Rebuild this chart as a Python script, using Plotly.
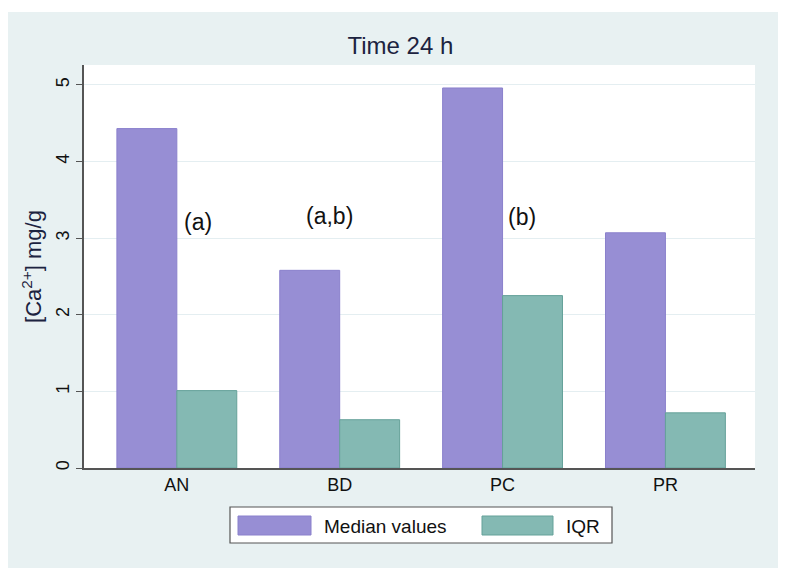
import plotly.graph_objects as go

categories = ["AN", "BD", "PC", "PR"]
median_values = [4.43, 2.58, 4.96, 3.07]
iqr_values = [1.01, 0.63, 2.25, 0.72]
sig_labels = ["(a)", "(a,b)", "(b)"]
sig_x = [0.13, 0.94, 2.12]
sig_y = [3.21, 3.29, 3.28]
y_ticks = [0, 1, 2, 3, 4, 5]

W, H = 786, 580
OFF = 8  # page body margin
L, R, T, B = 84 - OFF, 755 - OFF, 65 - OFF, 468 - OFF

def px(x):
    return (x - OFF - L) / (R - L)

def py(y):
    return (B - (y - OFF)) / (B - T)

MED = "#978ed4"
IQR = "#84b9b3"
TXT = "#1c2340"

fig = go.Figure()
fig.add_trace(go.Bar(x=categories, y=median_values, name="Median values",
                     marker=dict(color=MED, line=dict(color="#8a80cc", width=1)),
                     showlegend=False))
fig.add_trace(go.Bar(x=categories, y=iqr_values, name="IQR",
                     marker=dict(color=IQR, line=dict(color="#65a199", width=1)),
                     showlegend=False))

shapes = [
    dict(type="rect", xref="paper", yref="paper", x0=px(8), x1=px(778), y0=py(568), y1=py(12),
         fillcolor="#e8f1f2", line=dict(width=0), layer="below"),
    dict(type="rect", xref="paper", yref="paper", x0=0, x1=1, y0=0, y1=1,
         fillcolor="white", line=dict(width=0), layer="below"),
    # legend box
    dict(type="rect", xref="paper", yref="paper", x0=px(230), x1=px(612), y0=py(543), y1=py(507),
         fillcolor="white", line=dict(color="#555555", width=1.2)),
    dict(type="rect", xref="paper", yref="paper", x0=px(238), x1=px(311), y0=py(535), y1=py(516),
         fillcolor=MED, line=dict(color="#8a80cc", width=1)),
    dict(type="rect", xref="paper", yref="paper", x0=px(482), x1=px(553), y0=py(535), y1=py(516),
         fillcolor=IQR, line=dict(color="#65a199", width=1)),
]

annotations = [
    dict(text=t, x=xv, y=yv, xref="x", yref="y", showarrow=False,
         font=dict(size=23, color="#111111"))
    for t, xv, yv in zip(sig_labels, sig_x, sig_y)
]
annotations += [
    dict(text="Median values", x=px(322), y=py(526), xref="paper", yref="paper",
         xanchor="left", yanchor="middle", showarrow=False, font=dict(size=19, color="#111111")),
    dict(text="IQR", x=px(564), y=py(526), xref="paper", yref="paper",
         xanchor="left", yanchor="middle", showarrow=False, font=dict(size=19, color="#111111")),
]

fig.update_layout(
    width=W, height=H,
    margin=dict(l=L, r=W - R, t=T, b=H - B, pad=0),
    paper_bgcolor="white", plot_bgcolor="white",
    barmode="group", bargap=0.264, bargroupgap=0,
    font=dict(family="Liberation Sans, Arial, sans-serif", color=TXT),
    title=dict(text="Time 24 h", x=px(419), xanchor="center", y=1 - (46 - OFF) / H, yanchor="middle",
               font=dict(size=24, color=TXT)),
    shapes=shapes, annotations=annotations, showlegend=False,
    xaxis=dict(range=[-0.57, 3.55], showline=True, linecolor="#555555", linewidth=1.5,
               ticks="", showgrid=False, tickfont=dict(size=18, color="#111111"), fixedrange=True),
    yaxis=dict(range=[0, 5.26], tickvals=y_ticks, showline=True, linecolor="#555555", linewidth=1.5,
               ticks="outside", ticklen=6, tickcolor="#555555", tickangle=-90,
               showgrid=True, gridcolor="#e4eef1", gridwidth=1, zeroline=False,
               tickfont=dict(size=18, color="#111111"),
               title=dict(text="[Ca<sup>2+</sup>] mg/g", font=dict(size=22, color=TXT), standoff=5)),
)

fig.write_html("out.html")
